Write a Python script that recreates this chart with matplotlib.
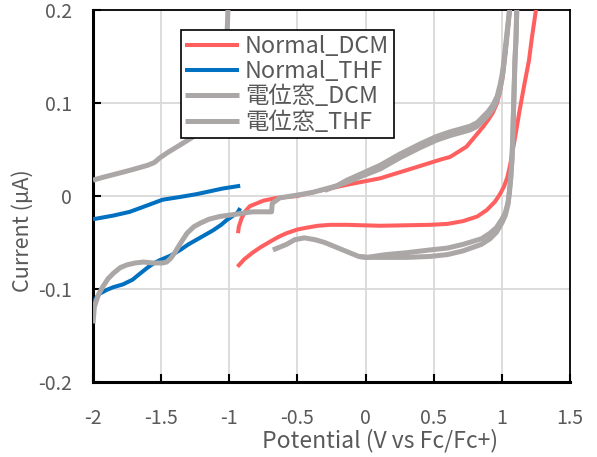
import numpy as np
import matplotlib.pyplot as plt

plt.rcParams["font.family"] = ["Noto Sans CJK JP", "DejaVu Sans"]
plt.rcParams["axes.unicode_minus"] = False

# Normal_DCM: forward scan then reverse scan
dcm_x = [-0.936, -0.93, -0.91, -0.88, -0.85, -0.8, -0.75, -0.65, -0.5, -0.39, -0.14, 0.106, 0.35, 0.546,
         0.62, 0.74, 0.86, 0.9, 0.935, 0.965, 0.986, 1.008, 1.03, 1.06,
         1.26, 1.25, 1.22, 1.199, 1.165, 1.13, 1.105, 1.08, 1.06, 1.04, 1.015, 0.986, 0.95, 0.89, 0.82,
         0.715, 0.6, 0.472, 0.106, -0.137, -0.26, -0.35, -0.43, -0.5, -0.58, -0.64, -0.70, -0.77, -0.83,
         -0.89, -0.94]
dcm_y = [-0.04, -0.033, -0.024, -0.016, -0.011, -0.008, -0.005, -0.002, 0.0, 0.004, 0.012, 0.019, 0.030, 0.039,
         0.042, 0.053, 0.074, 0.082, 0.09, 0.1, 0.112, 0.13, 0.16, 0.205,
         0.21, 0.2, 0.17, 0.146, 0.12, 0.092, 0.07, 0.049, 0.033, 0.02, 0.01, 0.002, -0.006, -0.015, -0.022,
         -0.027, -0.03, -0.031, -0.032, -0.031, -0.031, -0.032, -0.034, -0.036, -0.04, -0.044, -0.049, -0.055,
         -0.061, -0.068, -0.076]

# Normal_THF: two branches
thf_low_x = [-2, -1.98, -1.95, -1.9, -1.85, -1.78, -1.71, -1.66, -1.6, -1.55, -1.51, -1.43, -1.36, -1.3,
             -1.24, -1.18, -1.12, -1.06, -1.02, -0.97, -0.94, -0.92]
thf_low_y = [-0.117, -0.11, -0.105, -0.101, -0.098, -0.095, -0.09, -0.084, -0.077, -0.072, -0.069, -0.064,
             -0.058, -0.052, -0.047, -0.042, -0.037, -0.031, -0.026, -0.021, -0.018, -0.013]
thf_up_x = [-2, -1.85, -1.73, -1.6, -1.49, -1.36, -1.24, -1.05, -0.92]
thf_up_y = [-0.025, -0.021, -0.017, -0.01, -0.004, -0.001, 0.002, 0.008, 0.011]

# 電位窓_DCM: first cycle, forward then reverse
win_dcm_x = [-0.93, -0.83, -0.69, -0.685, -0.63, -0.5, -0.386, -0.21, -0.137, 0.106, 0.25, 0.40, 0.52,
             0.62, 0.766, 0.82, 0.86, 0.9, 0.935, 0.965, 0.986, 1.0, 1.008, 1.02, 1.035, 1.06,
             1.11, 1.104, 1.096, 1.09, 1.085, 1.08, 1.074, 1.065, 1.055, 1.045, 1.025, 1.0, 0.96, 0.913,
             0.85, 0.715, 0.6, 0.472, 0.3, 0.15, 0.01, -0.05, -0.1, -0.2, -0.3, -0.37, -0.45, -0.52,
             -0.58, -0.63, -0.68]
win_dcm_y = [-0.019, -0.017, -0.017, -0.008, -0.002, 0.001, 0.004, 0.011, 0.015, 0.029, 0.041, 0.052, 0.060,
             0.065, 0.071, 0.075, 0.081, 0.087, 0.094, 0.103, 0.115, 0.125, 0.133, 0.148, 0.168, 0.205,
             0.205, 0.17, 0.146, 0.115, 0.09, 0.063, 0.039, 0.02, 0.005, -0.007, -0.018, -0.025, -0.034,
             -0.04, -0.046, -0.052, -0.056, -0.058, -0.061, -0.063, -0.066, -0.065, -0.062, -0.056, -0.05,
             -0.047, -0.045, -0.047, -0.052, -0.055, -0.058]
# 電位窓_DCM: second cycle where it separates from the first
win_dcm2_x = [-0.3, -0.21, -0.137, 0.106, 0.25, 0.40, 0.52, 0.62, 0.766, 0.82, 0.86, 0.9, 0.935, 0.965,
              0.986, 1.0, 1.008, 1.02, 1.035, 1.06,
              1.11, 1.104, 1.096, 1.09, 1.085, 1.08, 1.074, 1.065, 1.055, 1.045, 1.025, 1.0, 0.96, 0.913,
              0.85, 0.715, 0.6, 0.472, 0.3, 0.15, 0.01, -0.05]
win_dcm2_y = [0.006, 0.011, 0.017, 0.033, 0.045, 0.056, 0.064, 0.069, 0.075, 0.079, 0.085, 0.091, 0.098,
              0.107, 0.119, 0.129, 0.137, 0.152, 0.172, 0.205,
              0.205, 0.17, 0.146, 0.115, 0.09, 0.063, 0.039, 0.019, 0.003, -0.009, -0.021, -0.029, -0.039,
              -0.046, -0.052, -0.059, -0.063, -0.065, -0.066, -0.066, -0.066, -0.065]

# 電位窓_THF: lower and upper branches
win_thf_low_x = [-2, -1.995, -1.99, -1.96, -1.93, -1.89, -1.85, -1.8, -1.75, -1.69, -1.63, -1.56, -1.49,
                 -1.46, -1.43, -1.4, -1.38, -1.35, -1.31, -1.26, -1.21, -1.15, -1.07, -0.92]
win_thf_low_y = [-0.137, -0.128, -0.119, -0.106, -0.098, -0.089, -0.083, -0.077, -0.074, -0.072, -0.071,
                 -0.072, -0.072, -0.071, -0.067, -0.061, -0.056, -0.049, -0.040, -0.033, -0.029, -0.025,
                 -0.022, -0.019]
win_thf_up_x = [-2, -1.93, -1.85, -1.72, -1.6, -1.55, -1.51, -1.45, -1.36, -1.25, -1.12, -1.05, -1.02,
                -1.01, -1.01]
win_thf_up_y = [0.017, 0.02, 0.023, 0.028, 0.033, 0.036, 0.041, 0.047, 0.055, 0.065, 0.085, 0.12, 0.16,
                0.2, 0.21]

xticks = [-2, -1.5, -1, -0.5, 0, 0.5, 1, 1.5]
xtick_labels = ["-2", "-1.5", "-1", "-0.5", "0", "0.5", "1", "1.5"]
yticks = [-0.2, -0.1, 0, 0.1, 0.2]
ytick_labels = ["-0.2", "-0.1", "0", "0.1", "0.2"]

red = "#FF5F5F"
blue = "#0070C0"
gray = "#ABA7A6"
txt = "#595959"

fig = plt.figure(figsize=(5.97, 4.57), dpi=100)
ax = fig.add_axes([0.1558, 0.1641, 0.799, 0.814])

style = dict(solid_joinstyle="round", solid_capstyle="butt")
ax.plot(dcm_x, dcm_y, color=red, lw=2.9, label="Normal_DCM", zorder=3, **style)
ax.plot(thf_up_x + [np.nan] + thf_low_x, thf_up_y + [np.nan] + thf_low_y,
        color=blue, lw=2.9, label="Normal_THF", zorder=4, **style)
ax.plot(win_dcm_x, win_dcm_y, color=gray, lw=3.6, label="電位窓_DCM", zorder=5, **style)
ax.plot(win_dcm2_x, win_dcm2_y, color=gray, lw=3.6, zorder=5, **style)
ax.plot(win_thf_up_x + [np.nan] + win_thf_low_x, win_thf_up_y + [np.nan] + win_thf_low_y,
        color=gray, lw=3.6, label="電位窓_THF", zorder=6, **style)

ax.set_xlim(-2, 1.5)
ax.set_ylim(-0.2, 0.2)
ax.set_xticks(xticks)
ax.set_xticklabels(xtick_labels)
ax.set_yticks(yticks)
ax.set_yticklabels(ytick_labels)
ax.grid(True, color="#D9D9D9", lw=1.3, zorder=0)
ax.set_axisbelow(True)
ax.tick_params(direction="in", length=6, width=1.5, color="black", labelcolor=txt, labelsize=14)
ax.tick_params(axis="x", pad=19)
ax.tick_params(axis="y", pad=15)

for side in ["left", "bottom"]:
    ax.spines[side].set_linewidth(2.2)
for side in ["top", "right"]:
    ax.spines[side].set_linewidth(1.3)
for s in ax.spines.values():
    s.set_color("black")

fig.text(0.6365, 0.036, "Potential (V vs Fc/Fc+)", color=txt, fontsize=16.5, ha="center", va="center")
fig.text(0.0385, 0.4945, "Current (μA)", color=txt, fontsize=15.5, ha="center", va="center", rotation=90)

leg = ax.legend(loc="upper left", bbox_to_anchor=(0.184, 0.946), borderaxespad=0, fontsize=16.8,
                handlelength=2.3, handletextpad=0.25, labelspacing=0.1, borderpad=0.2,
                fancybox=False, framealpha=1, edgecolor="black")
leg.get_frame().set_linewidth(1.2)
leg.set_zorder(10)
for t in leg.get_texts():
    t.set_color(txt)

fig.savefig("out.png", dpi=100)
